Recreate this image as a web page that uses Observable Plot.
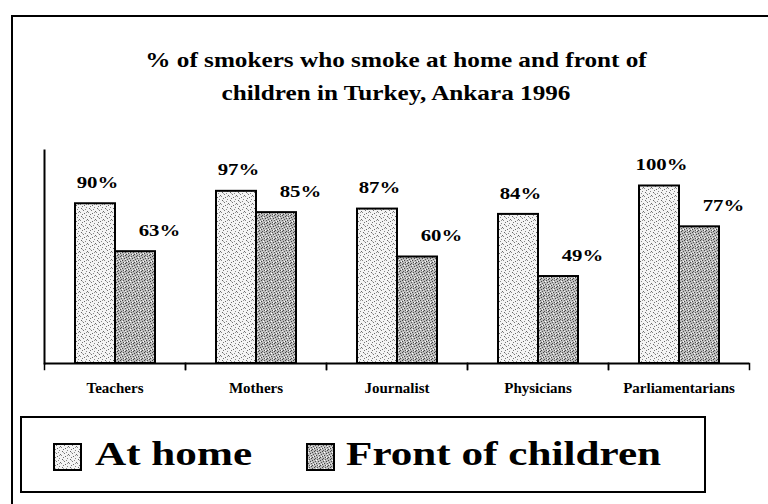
<!DOCTYPE html>
<html>
<head>
<meta charset="utf-8">
<script src="https://cdn.jsdelivr.net/npm/d3@7"></script>
<script src="https://cdn.jsdelivr.net/npm/@observablehq/plot@0.6"></script>
<style>
  html, body { margin: 0; padding: 0; background: #fff; }
  #wrap { position: relative; width: 768px; height: 504px; overflow: hidden; background: #fff; font-family: "Liberation Serif", "Times New Roman", serif; color: #000; }
  #frame { position: absolute; left: 11px; top: 15px; width: 800px; height: 600px; border-top: 2px solid #000; border-left: 2px solid #000; }
  #title { position: absolute; left: 396px; top: 44px; white-space: nowrap; text-align: center; font-weight: bold; font-size: 21px; line-height: 33px; transform: translateX(-50%) scaleX(1.2); }
  #chart { position: absolute; left: 0; top: 0; }
  #legend { position: absolute; left: 20px; top: 416px; width: 682px; height: 73px; border: 2px solid #000; }
  .lg { position: absolute; top: 0; height: 73px; }
  .lg svg { position: absolute; top: 25px; }
  .lg span { position: absolute; top: 12px; white-space: nowrap; font-weight: bold; font-size: 34px; line-height: 48px; transform-origin: left center; transform: scaleX(1.27); }
</style>
</head>
<body>
<svg width="0" height="0" style="position:absolute">
  <defs>
    <pattern id="homePat" width="8" height="8" patternUnits="userSpaceOnUse">
      <rect width="8" height="8" fill="#f4f4f4"/>
      <rect x="1" y="0" width="1" height="1" fill="#666"/>
      <rect x="5" y="1" width="1" height="1" fill="#888"/>
      <rect x="3" y="2" width="1" height="1" fill="#777"/>
      <rect x="7" y="3" width="1" height="1" fill="#666"/>
      <rect x="0" y="4" width="1" height="1" fill="#888"/>
      <rect x="4" y="5" width="1" height="1" fill="#666"/>
      <rect x="2" y="6" width="1" height="1" fill="#777"/>
      <rect x="6" y="7" width="1" height="1" fill="#888"/>
      <rect x="6" y="4" width="1" height="1" fill="#999"/>
      <rect x="2" y="1" width="1" height="1" fill="#aaa"/>
    </pattern>
    <pattern id="frontPat" width="8" height="8" patternUnits="userSpaceOnUse">
      <rect width="8" height="8" fill="#bcbcbc"/>
      <rect x="0" y="0" width="1" height="1" fill="#444"/>
      <rect x="3" y="0" width="1" height="1" fill="#555"/>
      <rect x="6" y="1" width="1" height="1" fill="#444"/>
      <rect x="1" y="2" width="1" height="1" fill="#555"/>
      <rect x="4" y="2" width="1" height="1" fill="#444"/>
      <rect x="7" y="3" width="1" height="1" fill="#555"/>
      <rect x="2" y="4" width="1" height="1" fill="#444"/>
      <rect x="5" y="4" width="1" height="1" fill="#555"/>
      <rect x="0" y="5" width="1" height="1" fill="#444"/>
      <rect x="3" y="6" width="1" height="1" fill="#555"/>
      <rect x="6" y="6" width="1" height="1" fill="#444"/>
      <rect x="1" y="7" width="1" height="1" fill="#555"/>
      <rect x="5" y="7" width="1" height="1" fill="#444"/>
      <rect x="2" y="1" width="1" height="1" fill="#fff"/>
      <rect x="5" y="3" width="1" height="1" fill="#eee"/>
      <rect x="7" y="5" width="1" height="1" fill="#fff"/>
      <rect x="1" y="4" width="1" height="1" fill="#eee"/>
      <rect x="4" y="6" width="1" height="1" fill="#fff"/>
    </pattern>
  </defs>
</svg>
<div id="wrap">
  <div id="frame"></div>
  <div id="chart"></div>
  <div id="title">% of smokers who smoke at home and front of<br>children in Turkey, Ankara 1996</div>
  <div id="legend"></div>
</div>
<script>
// ---- data ----
const categories = ["Teachers", "Mothers", "Journalist", "Physicians", "Parliamentarians"];
const seriesKeys = ["home", "front"];
const seriesNames = ["At home", "Front of children"];
const atHome = [90, 97, 87, 84, 100];
const frontOfChildren = [63, 85, 60, 49, 77];

const rows = [];
categories.forEach((c, i) => {
  rows.push({category: c, series: "home", value: atHome[i]});
  rows.push({category: c, series: "front", value: frontOfChildren[i]});
});
const homeRows = rows.filter(d => d.series === "home");
const frontRows = rows.filter(d => d.series === "front");

const H = 410, MT = 150, MB = 47;
const chart = Plot.plot({
  width: 768,
  height: H,
  marginTop: MT,
  marginBottom: MB,
  marginLeft: 44,
  marginRight: 19,
  style: {fontFamily: "'Liberation Serif', 'Times New Roman', serif", background: "transparent", color: "#000"},
  fx: {domain: categories, padding: 0, axis: null},
  x: {domain: seriesKeys, paddingInner: 0, paddingOuter: 0.72, axis: null},
  y: {domain: [0, 120], axis: null},
  marks: [
    Plot.barY(homeRows, {fx: "category", x: "series", y: "value", fill: "url(#homePat)", stroke: "#000", strokeWidth: 2}),
    Plot.barY(frontRows, {fx: "category", x: "series", y: "value", fill: "url(#frontPat)", stroke: "#000", strokeWidth: 2}),
    Plot.text(homeRows, {fx: "category", x: "series", y: "value", text: d => d.value + "%", dy: -21, dx: 2, fontSize: 16, fontWeight: "bold"}),
    Plot.text(frontRows, {fx: "category", x: "series", y: "value", text: d => d.value + "%", dy: -21, dx: 24, fontSize: 16, fontWeight: "bold"}),
    Plot.ruleY([0], {stroke: "#000", strokeWidth: 2}),
    Plot.frame({anchor: "left", facet: "super", stroke: "#000", strokeWidth: 2}),
    Plot.frame({anchor: "left", insetTop: H - MT - MB, insetBottom: -6, stroke: "#000", strokeWidth: 1.5}),
    Plot.frame({anchor: "right", insetTop: H - MT - MB, insetBottom: -6, stroke: "#000", strokeWidth: 1.5}),
    Plot.axisFx({anchor: "bottom", tickSize: 0, tickPadding: 19, fontSize: 15, fontWeight: "bold", label: null})
  ]
});
document.getElementById("chart").appendChild(chart);
// stretch value labels horizontally like the scanned original
chart.querySelectorAll('g[aria-label="text"] text').forEach(t => {
  const w = t.getComputedTextLength();
  t.setAttribute("textLength", (w * 1.3).toFixed(1));
  t.setAttribute("lengthAdjust", "spacingAndGlyphs");
});

// ---- legend ----
const legend = document.getElementById("legend");
const pats = ["homePat", "frontPat"];
const lx = [31, 284];
const tx = [42, 40];
seriesNames.forEach((name, i) => {
  const item = document.createElement("div");
  item.className = "lg";
  item.style.left = lx[i] + "px";
  item.innerHTML = `<svg width="30" height="30"><rect x="1" y="1" width="27" height="26" fill="url(#${pats[i]})" stroke="#000" stroke-width="2"/></svg><span style="left:${tx[i]}px">${name}</span>`;
  legend.appendChild(item);
});
</script>
</body>
</html>
